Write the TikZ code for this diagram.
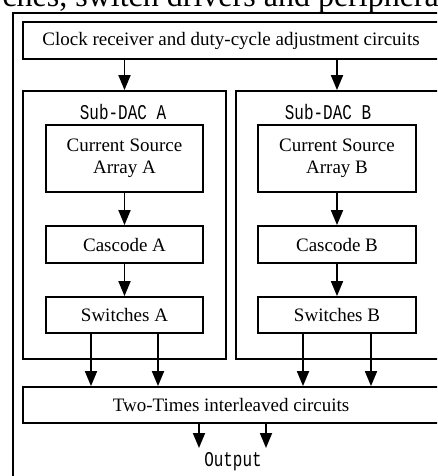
\documentclass[tikz,border=0pt]{standalone}
\usepackage{fontspec}
\setmainfont{Liberation Serif}
\newfontfamily\monof[FakeStretch=0.76]{Liberation Mono}
\usetikzlibrary{arrows.meta,calc}
\begin{document}
\begin{tikzpicture}[x=1pt,y=-1pt,
  box/.style={draw,line width=1.8pt,inner sep=0pt,align=center,font=\fontsize{19}{22}\selectfont},
  arr/.style={line width=1.8pt,-{Triangle[width=12pt,length=15pt]}},
  lbl/.style={inner sep=0pt,font=\monof\fontsize{21}{22}\selectfont}]
\useasboundingbox (0,0) rectangle (437,476);
\begin{scope}
\clip (0,0) rectangle (437,476);
% partial caption line at top
\node[inner sep=0pt,anchor=base east,font=\fontsize{32}{36}\selectfont] (cap) at (439,6.5) {ches, switch drivers and periphera};
% outer frame
\node[draw,line width=2pt,minimum width=436pt,minimum height=480pt,inner sep=0pt] (outer) at (230.7,253.3) {};
% clock
\node[box,minimum width=416pt,minimum height=37pt] (clk) at (231,40.5) {};
\node[inner sep=0pt,font=\fontsize{19}{22}\selectfont] (clkt) at (231,40.5) {Clock receiver and duty-cycle adjustment circuits};
% sub-DACs
\node[box,minimum width=203pt,minimum height=268pt] (subA) at (124.5,225) {};
\node[box,minimum width=203pt,minimum height=268pt] (subB) at (337.5,225) {};
\node[lbl] (labA) at (123,112) {Sub-DAC A};
\node[lbl] (labB) at (328,112) {Sub-DAC B};
% A chain
\node[box,minimum width=157pt,minimum height=67pt] (csA) at (124.5,158.5) {Current Source\\Array A};
\node[box,minimum width=157pt,minimum height=37pt] (cascA) at (124.5,244.5) {Cascode A};
\node[box,minimum width=157pt,minimum height=36pt] (swA) at (124.5,315) {Switches A};
% B chain
\node[box,minimum width=158pt,minimum height=67pt] (csB) at (337,158.5) {Current Source\\Array B};
\node[box,minimum width=158pt,minimum height=37pt] (cascB) at (337,244.5) {Cascode B};
\node[box,minimum width=158pt,minimum height=36pt] (swB) at (337,315) {Switches B};
% interleaver
\node[box,minimum width=416pt,minimum height=36pt] (tt) at (231,405) {};
\node[inner sep=0pt,font=\fontsize{19}{22}\selectfont] (ttt) at (231,405) {Two-Times interleaved circuits};
\node[lbl] (out) at (233,462) {Output};
% helper coordinates
\coordinate (a1) at (91,333);
\coordinate (a2) at (158,333);
\coordinate (b1) at (303,333);
\coordinate (b2) at (371,333);
\coordinate (o1) at (199,448);
\coordinate (o2) at (266,448);
% arrows
\draw[arr] (clk.south -| csA.south) -- (subA.north -| csA.south);
\draw[arr] (clk.south -| csB.south) -- (subB.north -| csB.south);
\draw[arr] (csA) -- (cascA);
\draw[arr] (cascA) -- (swA);
\draw[arr] (csB) -- (cascB);
\draw[arr] (cascB) -- (swB);
\draw[arr] (swA.south -| a1) -- (tt.north -| a1);
\draw[arr] (swA.south -| a2) -- (tt.north -| a2);
\draw[arr] (swB.south -| b1) -- (tt.north -| b1);
\draw[arr] (swB.south -| b2) -- (tt.north -| b2);
\draw[arr] (tt.south -| o1) -- (o1);
\draw[arr] (tt.south -| o2) -- (o2);
\end{scope}
\end{tikzpicture}
\end{document}
